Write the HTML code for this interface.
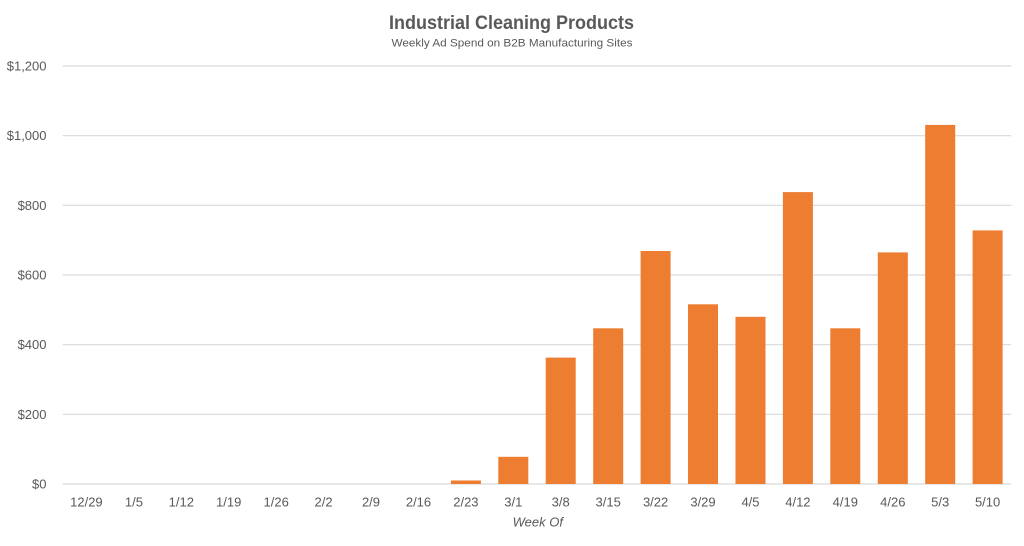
<!DOCTYPE html>
<html>
<head>
<meta charset="utf-8">
<style>
  html, body { margin: 0; padding: 0; background: #ffffff; }
  svg { display: block; }
  text { font-family: "Liberation Sans", sans-serif; fill: #595959; }
</style>
</head>
<body>
<svg width="1024" height="546" viewBox="0 0 1024 546" xmlns="http://www.w3.org/2000/svg">
  <rect x="0" y="0" width="1024" height="546" fill="#ffffff"/>
  <!-- Title -->
  <text x="511.5" y="29" font-size="19" font-weight="bold" text-anchor="middle" textLength="245" lengthAdjust="spacingAndGlyphs">Industrial Cleaning Products</text>
  <text x="512" y="46.5" font-size="11" text-anchor="middle" textLength="241" lengthAdjust="spacingAndGlyphs">Weekly Ad Spend on B2B Manufacturing Sites</text>

  <!-- Gridlines -->
  <g stroke="#D9D9D9" stroke-width="1.2">
    <line x1="62.7" y1="66" x2="1011.3" y2="66"/>
    <line x1="62.7" y1="135.7" x2="1011.3" y2="135.7"/>
    <line x1="62.7" y1="205.3" x2="1011.3" y2="205.3"/>
    <line x1="62.7" y1="275" x2="1011.3" y2="275"/>
    <line x1="62.7" y1="344.7" x2="1011.3" y2="344.7"/>
    <line x1="62.7" y1="414.3" x2="1011.3" y2="414.3"/>
    <line x1="62.7" y1="484" x2="1011.3" y2="484"/>
  </g>

  <!-- Y labels -->
  <g font-size="13" text-anchor="end">
    <text x="46.5" y="70.5">$1,200</text>
    <text x="46.5" y="140.2">$1,000</text>
    <text x="46.5" y="209.8">$800</text>
    <text x="46.5" y="279.5">$600</text>
    <text x="46.5" y="349.2">$400</text>
    <text x="46.5" y="418.8">$200</text>
    <text x="46.5" y="488.5">$0</text>
  </g>

  <!-- Bars -->
  <g fill="#ED7D31">
    <rect x="450.9" y="480.5" width="30" height="3.5"/>
    <rect x="498.3" y="456.8" width="30" height="27.2"/>
    <rect x="545.7" y="357.6" width="30" height="126.4"/>
    <rect x="593.2" y="328.3" width="30" height="155.7"/>
    <rect x="640.6" y="251" width="30" height="233"/>
    <rect x="688.0" y="304.3" width="30" height="179.7"/>
    <rect x="735.5" y="316.8" width="30" height="167.2"/>
    <rect x="782.9" y="192.1" width="30" height="291.9"/>
    <rect x="830.3" y="328.3" width="30" height="155.7"/>
    <rect x="877.8" y="252.4" width="30" height="231.6"/>
    <rect x="925.2" y="124.9" width="30" height="359.1"/>
    <rect x="972.6" y="230.4" width="30" height="253.6"/>
  </g>

  <!-- X labels -->
  <g font-size="13" text-anchor="middle">
    <text x="86.4" y="506.5">12/29</text>
    <text x="133.9" y="506.5">1/5</text>
    <text x="181.3" y="506.5">1/12</text>
    <text x="228.7" y="506.5">1/19</text>
    <text x="276.2" y="506.5">1/26</text>
    <text x="323.6" y="506.5">2/2</text>
    <text x="371.0" y="506.5">2/9</text>
    <text x="418.5" y="506.5">2/16</text>
    <text x="465.9" y="506.5">2/23</text>
    <text x="513.3" y="506.5">3/1</text>
    <text x="560.7" y="506.5">3/8</text>
    <text x="608.2" y="506.5">3/15</text>
    <text x="655.6" y="506.5">3/22</text>
    <text x="703.0" y="506.5">3/29</text>
    <text x="750.5" y="506.5">4/5</text>
    <text x="797.9" y="506.5">4/12</text>
    <text x="845.3" y="506.5">4/19</text>
    <text x="892.8" y="506.5">4/26</text>
    <text x="940.2" y="506.5">5/3</text>
    <text x="987.6" y="506.5">5/10</text>
  </g>

  <!-- X axis title -->
  <text x="537.8" y="526.5" font-size="13" font-style="italic" text-anchor="middle">Week Of</text>
</svg>
</body>
</html>
